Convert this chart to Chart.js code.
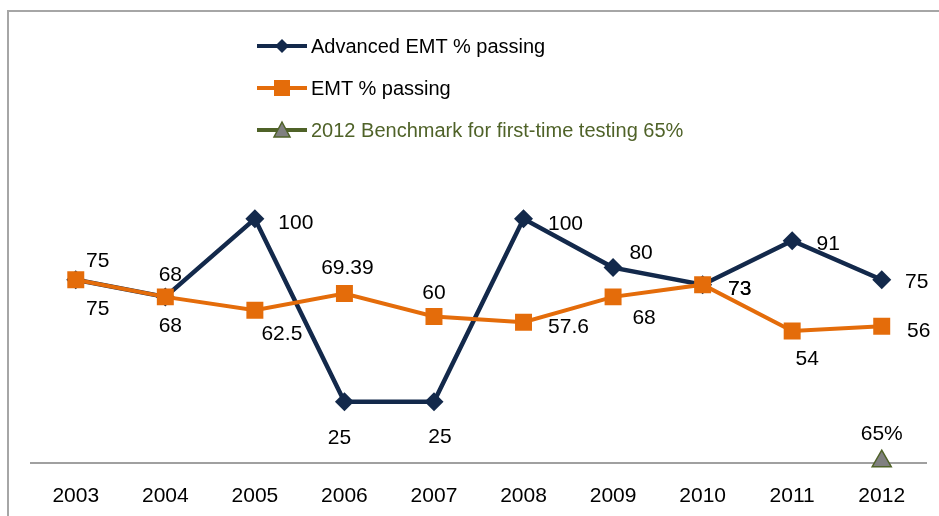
<!DOCTYPE html>
<html>
<head>
<meta charset="utf-8">
<script src="https://cdn.jsdelivr.net/npm/chart.js@4/dist/chart.umd.min.js"></script>
<style>
  html, body { margin: 0; padding: 0; background: #fff; overflow: hidden; }
  #wrap { position: relative; width: 939px; height: 516px; overflow: hidden; }
  #frame { position: absolute; left: 7px; top: 10px; width: 1000px; height: 600px; border: 2px solid #a6a6a6; box-sizing: border-box; }
  #chart { position: absolute; left: 0; top: 0; }
  .leg { position: absolute; left: 257px; height: 24px; display: flex; align-items: center; font: 20px "Liberation Sans", Arial, sans-serif; white-space: nowrap; }
  .leg svg { margin-right: 4px; }
</style>
</head>
<body>
<div id="wrap">
  <div id="frame"></div>
  <canvas id="chart" width="939" height="541"></canvas>
  <div class="leg" style="top:34px; color:#000;">
    <svg width="50" height="20"><line x1="0" y1="10" x2="50" y2="10" stroke="#13294b" stroke-width="4"/><polygon points="25,3 32,10 25,17 18,10" fill="#13294b"/></svg>
    <span>Advanced EMT % passing</span>
  </div>
  <div class="leg" style="top:76px; color:#000;">
    <svg width="50" height="20"><line x1="0" y1="10" x2="50" y2="10" stroke="#e46c0a" stroke-width="4"/><rect x="17" y="2" width="16" height="16" fill="#e46c0a"/></svg>
    <span>EMT % passing</span>
  </div>
  <div class="leg" style="top:118px; color:#4f6228;">
    <svg width="50" height="20"><line x1="0" y1="10" x2="50" y2="10" stroke="#4f6228" stroke-width="4"/><polygon points="25,2 33,17 17,17" fill="#808080" stroke="#4f6228" stroke-width="1.5"/></svg>
    <span>2012 Benchmark for first-time testing 65%</span>
  </div>
</div>
<script>
// data
var years = ['2003', '2004', '2005', '2006', '2007', '2008', '2009', '2010', '2011', '2012'];
var advancedPassing = [75, 68, 100, 25, 25, 100, 80, 73, 91, 75];
var emtPassing = [75, 68, 62.5, 69.39, 60, 57.6, 68, 73, 54, 56];
var benchmark = [null, null, null, null, null, null, null, null, null, 0.65];
var benchmarkLabel = '65%';

// label placement relative to each point (dx, dy)
var advLabelShift = [[22, -19], [5, -22], [41, 4], [-5, 36], [6, 35], [42, 5], [28, -14], [37, 5], [36, 3], [35, 2]];
var emtLabelShift = [[22, 29], [5, 29], [27, 24], [3, -25], [0, -23], [45, 5], [31, 21], [37, 5], [15, 28], [37, 5]];
var benchLabelShift = [0, -27];

var fontFam = '"Liberation Sans", Arial, sans-serif';

var etiquetas = {
    id: 'etiquetas',
    afterDatasetsDraw: function(chart) {
        var ctx = chart.ctx;
        ctx.save();
        ctx.font = '21px ' + fontFam;
        ctx.fillStyle = '#000';
        ctx.textAlign = 'center';
        ctx.textBaseline = 'middle';

        var puntosAdv = chart.getDatasetMeta(0).data;
        puntosAdv.forEach(function(p, i) {
            ctx.fillText(String(advancedPassing[i]), p.x + advLabelShift[i][0], p.y + advLabelShift[i][1]);
        });

        var puntosEmt = chart.getDatasetMeta(1).data;
        puntosEmt.forEach(function(p, i) {
            ctx.fillText(String(emtPassing[i]), p.x + emtLabelShift[i][0], p.y + emtLabelShift[i][1]);
        });

        var puntosBench = chart.getDatasetMeta(2).data;
        puntosBench.forEach(function(p, i) {
            if (benchmark[i] === null) return;
            ctx.fillText(benchmarkLabel, p.x + benchLabelShift[0], p.y + benchLabelShift[1]);
        });
        ctx.restore();
    }
};

new Chart(document.getElementById('chart'), {
    type: 'line',
    data: {
        labels: years,
        datasets: [{
            label: 'Advanced EMT % passing',
            data: advancedPassing,
            borderColor: '#13294b',
            backgroundColor: '#13294b',
            borderWidth: 4.5,
            pointStyle: 'rectRot',
            pointRadius: 9.5,
            pointBorderWidth: 0,
            tension: 0,
            order: 2
        }, {
            label: 'EMT % passing',
            data: emtPassing,
            borderColor: '#e46c0a',
            backgroundColor: '#e46c0a',
            borderWidth: 4,
            pointStyle: 'rect',
            pointRadius: 12,
            pointBorderWidth: 0,
            tension: 0,
            order: 1
        }, {
            label: '2012 Benchmark for first-time testing 65%',
            data: benchmark,
            borderColor: '#4f6228',
            backgroundColor: '#808080',
            borderWidth: 3,
            pointStyle: 'triangle',
            pointRadius: 11,
            pointBorderWidth: 1.5,
            pointBorderColor: '#4f6228',
            clip: false,
            order: 0
        }]
    },
    options: {
        responsive: false,
        animation: false,
        layout: { padding: { left: 31, right: 12, top: 170, bottom: 11 } },
        plugins: {
            legend: { display: false },
            tooltip: { enabled: false }
        },
        scales: {
            x: {
                offset: true,
                grid: { display: false, drawTicks: false },
                border: { display: true, color: '#a0a0a0', width: 2 },
                ticks: { color: '#000', padding: 21, font: { family: fontFam, size: 21 } }
            },
            y: { display: false, min: 0, max: 120 }
        }
    },
    plugins: [etiquetas]
});
</script>
</body>
</html>
